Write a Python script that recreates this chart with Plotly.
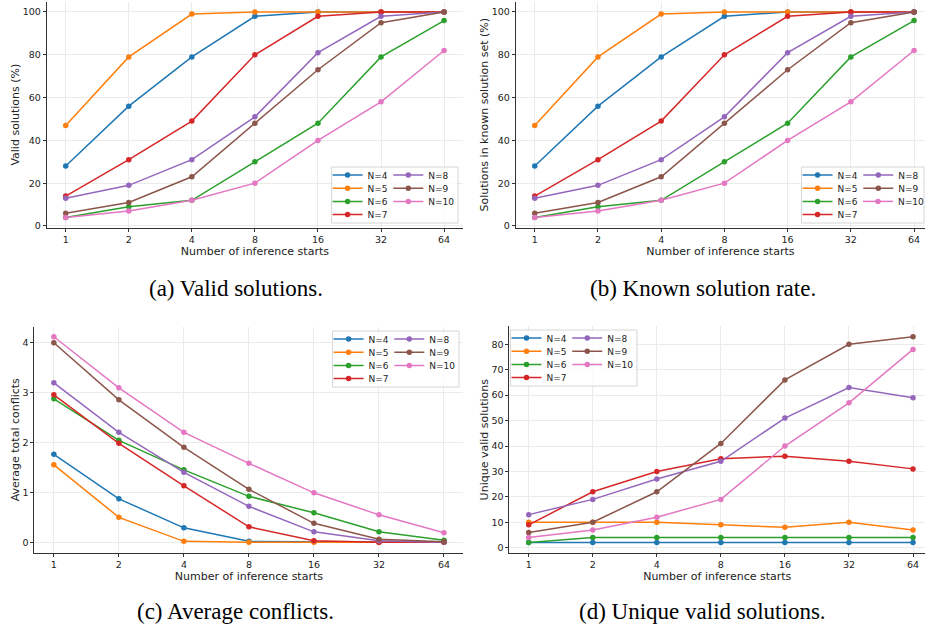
import math
import plotly.graph_objects as go

W, H = 929, 630

starts = [1, 2, 4, 8, 16, 32, 64]
tick_text = ["1", "2", "4", "8", "16", "32", "64"]
labels = ["N=4", "N=5", "N=6", "N=7", "N=8", "N=9", "N=10"]
colors = ["#1f77b4", "#ff7f0e", "#2ca02c", "#d62728", "#9467bd", "#8c564b", "#e377c2"]

valid_pct = [
    [28, 56, 79, 98, 100, 100, 100],
    [47, 79, 99, 100, 100, 100, 100],
    [4, 9, 12, 30, 48, 79, 96],
    [14, 31, 49, 80, 98, 100, 100],
    [13, 19, 31, 51, 81, 98, 100],
    [6, 11, 23, 48, 73, 95, 100],
    [4, 7, 12, 20, 40, 58, 82],
]
known_pct = [
    [28, 56, 79, 98, 100, 100, 100],
    [47, 79, 99, 100, 100, 100, 100],
    [4, 9, 12, 30, 48, 79, 96],
    [14, 31, 49, 80, 98, 100, 100],
    [13, 19, 31, 51, 81, 98, 100],
    [6, 11, 23, 48, 73, 95, 100],
    [4, 7, 12, 20, 40, 58, 82],
]
avg_conflicts = [
    [1.76, 0.87, 0.29, 0.02, 0.01, 0.0, 0.0],
    [1.55, 0.50, 0.02, 0.0, 0.0, 0.0, 0.0],
    [2.87, 2.04, 1.45, 0.92, 0.59, 0.21, 0.04],
    [2.95, 1.98, 1.13, 0.31, 0.03, 0.0, 0.0],
    [3.19, 2.20, 1.40, 0.72, 0.21, 0.03, 0.0],
    [3.99, 2.85, 1.90, 1.06, 0.38, 0.06, 0.01],
    [4.11, 3.09, 2.20, 1.58, 0.99, 0.55, 0.19],
]
unique_valid = [
    [2, 2, 2, 2, 2, 2, 2],
    [10, 10, 10, 9, 8, 10, 7],
    [2, 4, 4, 4, 4, 4, 4],
    [9, 22, 30, 35, 36, 34, 31],
    [13, 19, 27, 34, 51, 63, 59],
    [6, 10, 22, 41, 66, 80, 83],
    [4, 7, 12, 19, 40, 57, 78],
]

y_titles = ["Valid solutions (%)", "Solutions in known solution set (%)",
            "Average total conflicts", "Unique valid solutions"]
x_title = "Number of inference starts"
captions = ["(a) Valid solutions.", "(b) Known solution rate.",
            "(c) Average conflicts.", "(d) Unique valid solutions."]
y_ticks = [[0, 20, 40, 60, 80, 100], [0, 20, 40, 60, 80, 100],
           [0, 1, 2, 3, 4], [0, 10, 20, 30, 40, 50, 60, 70, 80]]
datasets = [valid_pct, known_pct, avg_conflicts, unique_valid]

L2 = math.log10(2)
panels = [
    dict(px=(47, 465), py=(1.7, 227.7), xr=(-0.3, 6.3), yr=(-0.8, 104.8), leg=(337, 167)),
    dict(px=(518, 929), py=(1.7, 227.7), xr=(-0.3, 6.173), yr=(-0.8, 104.8), leg=(809, 167)),
    dict(px=(34.5, 465.5), py=(327, 552.6), xr=(-0.3, 6.3), yr=(-0.205, 4.3055), leg=(338, 331)),
    dict(px=(511.7, 929), py=(326.4, 552.9), xr=(-0.3, 6.187), yr=(-2.05, 87.05), leg=(516.7, 330)),
]
caption_pos = [(237, 289), (706, 289), (237, 611), (706, 611)]

FONT = "DejaVu Sans"
TXT = "#222222"

fig = go.Figure()
layout = dict(width=W, height=H, margin=dict(l=0, r=0, t=0, b=0),
              paper_bgcolor="white", plot_bgcolor="white",
              font=dict(family=FONT, size=10, color=TXT), shapes=[], annotations=[])

for p, pan in enumerate(panels):
    ax = "" if p == 0 else str(p + 1)
    xa, ya = "x" + ax, "y" + ax
    L, T = pan["leg"]
    for k in range(7):
        idx = p * 7 + k + 1
        lname = "legend" if idx == 1 else f"legend{idx}"
        fig.add_trace(go.Scatter(
            x=starts, y=datasets[p][k], name=labels[k], mode="lines+markers",
            line=dict(color=colors[k], width=1.5),
            marker=dict(color=colors[k], size=5.5),
            xaxis=xa, yaxis=ya, legend=lname, showlegend=True))
        col = 0 if k < 4 else 1
        row = k if k < 4 else k - 4
        lx = L - 8 if col == 0 else L + 53
        ly = T + 8 + 13.2 * row
        layout[lname] = dict(x=lx / W, y=1 - ly / H, xanchor="left", yanchor="middle",
                             xref="paper", yref="paper", bgcolor="rgba(0,0,0,0)",
                             borderwidth=0, font=dict(family=FONT, size=9, color=TXT),
                             itemwidth=30)
    x0, x1 = pan["px"]
    yt, yb = pan["py"]
    layout["xaxis" + ax] = dict(
        domain=[x0 / W, x1 / W], type="log", anchor=ya,
        range=[pan["xr"][0] * L2, pan["xr"][1] * L2],
        tickvals=starts, ticktext=tick_text, ticks="outside", ticklen=3,
        tickcolor="#333333", tickwidth=1, showline=True, linecolor="#333333",
        linewidth=1, showgrid=True, gridcolor="#ebebeb", gridwidth=1,
        tickfont=dict(size=9.5, family=FONT, color=TXT), automargin=False,
        title=dict(text=x_title, font=dict(size=11, family=FONT, color=TXT), standoff=2))
    layout["yaxis" + ax] = dict(
        domain=[1 - yb / H, 1 - yt / H], anchor=xa, range=list(pan["yr"]),
        tickvals=y_ticks[p], ticks="outside", ticklen=3, tickcolor="#333333",
        tickwidth=1, showline=True, linecolor="#333333", linewidth=1,
        showgrid=True, gridcolor="#ebebeb", gridwidth=1, zeroline=False,
        tickfont=dict(size=9.5, family=FONT, color=TXT), automargin=False,
        title=dict(text=y_titles[p], font=dict(size=11, family=FONT, color=TXT), standoff=0))
    layout["shapes"].append(dict(
        type="rect", xref="paper", yref="paper", layer="above",
        x0=(L - 4) / W, x1=min(L + 123, 928) / W, y0=1 - (T + 56) / H, y1=1 - T / H,
        fillcolor="rgba(255,255,255,0.8)", line=dict(color="#cccccc", width=0.8)))
    cx, cy = caption_pos[p]
    layout["annotations"].append(dict(
        text=captions[p], xref="paper", yref="paper", x=cx / W, y=1 - cy / H,
        xanchor="center", yanchor="middle", showarrow=False,
        font=dict(family="Liberation Serif", size=23, color="black")))

fig.update_layout(**layout)
fig.write_html("out.html", config={"displayModeBar": False},
               post_script="document.body.style.margin='0';document.body.style.overflow='hidden';")
